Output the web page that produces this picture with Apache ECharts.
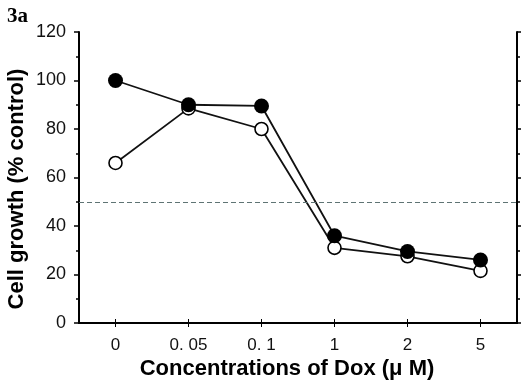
<!DOCTYPE html>
<html>
<head>
<meta charset="utf-8">
<script src="https://cdn.jsdelivr.net/npm/echarts@6/dist/echarts.min.js"></script>
<style>html,body{margin:0;padding:0;background:#fff}#c{width:521px;height:390px}</style>
</head>
<body>
<div id="c"></div>
<script>
var categories = ['0', '0. 05', '0. 1', '1', '2', '5'];
var filledValues = [100, 90, 89.5, 36, 29.5, 26];
var openValues = [66, 88.5, 80, 31, 27.5, 21.5];
var yTicks = [0, 20, 40, 60, 80, 100, 120];
var referenceLine = 50;

var chart = echarts.init(document.getElementById('c'), null, {renderer: 'canvas'});
var axisLine = {show: true, lineStyle: {color: '#000', width: 2}};
var tickFont = '"Liberation Sans Narrow", "Liberation Sans", sans-serif';
chart.setOption({
  animation: false,
  backgroundColor: '#fff',
  grid: {left: 79, right: 4, top: 32, bottom: 67},
  graphic: [
    {type: 'text', left: 7, top: 6, style: {text: '3a', font: 'bold 21px "Liberation Serif"', fill: '#000'}},
    {type: 'text', x: 287, y: 369, style: {text: 'Concentrations of Dox (\u03bc M)', font: 'bold 22px "Liberation Sans"', fill: '#000', align: 'center', verticalAlign: 'middle'}},
    {type: 'text', x: 17, y: 189, rotation: Math.PI / 2, style: {text: 'Cell growth (% control)', font: 'bold 22px "Liberation Sans"', fill: '#000', align: 'center', verticalAlign: 'middle'}}
  ],
  xAxis: [{
    type: 'category', data: categories, boundaryGap: true, position: 'bottom',
    axisLine: axisLine,
    axisTick: {show: true, alignWithLabel: true, length: 4, lineStyle: {color: '#000', width: 1}},
    axisLabel: {margin: 14, fontFamily: tickFont, fontSize: 17, color: '#111'},
    splitLine: {show: false}
  }, {
    type: 'category', data: categories, boundaryGap: true, position: 'top',
    axisLine: axisLine,
    axisTick: {show: true, alignWithLabel: true, length: 4, lineStyle: {color: '#000', width: 1}},
    axisLabel: {show: false}, splitLine: {show: false}
  }],
  yAxis: [{
    type: 'value', min: yTicks[0], max: yTicks[yTicks.length - 1], interval: 20, position: 'left',
    axisLine: axisLine,
    axisTick: {show: true, length: 5, lineStyle: {color: '#000', width: 1.5}},
    minorTick: {show: true, splitNumber: 2, length: 3, lineStyle: {color: '#000', width: 1.5}},
    axisLabel: {margin: 13, fontFamily: tickFont, fontSize: 18, color: '#111', padding: [5, 0, 0, 0]},
    splitLine: {show: false}
  }, {
    type: 'value', min: yTicks[0], max: yTicks[yTicks.length - 1], interval: 20, position: 'right',
    axisLine: axisLine,
    axisTick: {show: true, length: 5, lineStyle: {color: '#000', width: 1.5}},
    minorTick: {show: true, splitNumber: 2, length: 3, lineStyle: {color: '#000', width: 1.5}},
    axisLabel: {show: false}, splitLine: {show: false}
  }],
  series: [{
    type: 'line', data: openValues, symbol: 'circle', symbolSize: 13, z: 2,
    lineStyle: {color: '#111', width: 1.8},
    itemStyle: {color: '#fff', borderColor: '#000', borderWidth: 1.6},
    markLine: {
      silent: true, symbol: 'none', label: {show: false},
      lineStyle: {color: '#5f7474', type: [5, 3], width: 1.2},
      data: [{yAxis: referenceLine}]
    }
  }, {
    type: 'line', data: filledValues, symbol: 'circle', symbolSize: 15, z: 3,
    lineStyle: {color: '#111', width: 1.8},
    itemStyle: {color: '#000', borderColor: '#000', borderWidth: 0}
  }]
});
</script>
</body>
</html>
